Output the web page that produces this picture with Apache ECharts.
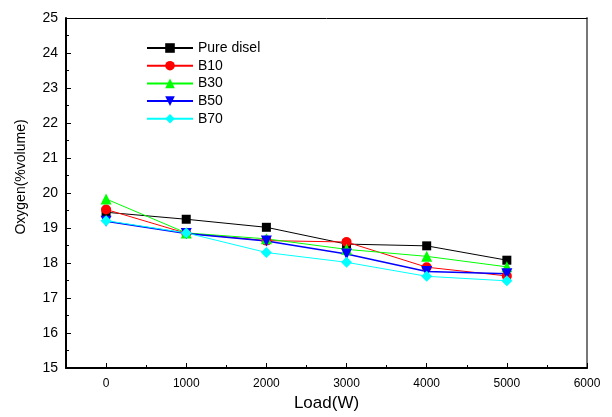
<!DOCTYPE html>
<html><head><meta charset="utf-8">
<script src="https://cdn.jsdelivr.net/npm/echarts@6/dist/echarts.min.js"></script>
<style>html,body{margin:0;padding:0;background:#fff}#c{width:612px;height:417px}</style>
</head><body><div id="c"></div>
<script>
const loads = [0, 1000, 2000, 3000, 4000, 5000];
const pureDisel = [19.45, 19.25, 19.02, 18.54, 18.49, 18.08];
const b10 = [19.53, 18.85, 18.64, 18.60, 17.88, 17.63];
const b30 = [19.83, 18.86, 18.69, 18.39, 18.19, 17.89];
const b50 = [19.19, 18.84, 18.63, 18.26, 17.76, 17.69];
const b70 = [19.21, 18.86, 18.30, 18.02, 17.62, 17.49];
const xMajorTicks = [0, 1000, 2000, 3000, 4000, 5000, 6000];
const xMinorTicks = [500, 1500, 2500, 3500, 4500, 5500];
const FONT = 'Liberation Sans';

const pair = arr => loads.map((x, i) => [x, arr[i]]);
function ser(name, data, color, symbol, size, lw, rot) {
  return {
    name, type: 'line', data: pair(data), symbol, symbolSize: size,
    symbolRotate: rot || 0,
    itemStyle: { color }, lineStyle: { color, width: lw },
    emphasis: { disabled: true }, animation: false, z: 5
  };
}
const chart = echarts.init(document.getElementById('c'), null, { renderer: 'canvas' });
chart.setOption({
  animation: false,
  textStyle: { fontFamily: FONT },
  grid: { left: 66, top: 18, right: 25, bottom: 47, containLabel: false },
  legend: {
    left: 141, top: 36, orient: 'vertical', itemWidth: 46, itemHeight: 12, itemGap: 3.7,
    textStyle: { fontFamily: FONT, fontSize: 14, color: '#000' },
    data: ['Pure disel', 'B10', 'B30', 'B50', 'B70']
  },
  graphic: [{
    type: 'text', x: 21, y: 177, rotation: Math.PI / 2,
    style: { text: 'Oxygen(%volume)', font: '14px "Liberation Sans"', fill: '#000',
             textAlign: 'center', textVerticalAlign: 'middle' }
  }],
  xAxis: [
    { type: 'value', position: 'bottom', min: -500, max: 6000,
      name: 'Load(W)', nameLocation: 'middle', nameGap: 27,
      nameTextStyle: { fontFamily: FONT, fontSize: 17, color: '#000' },
      axisLine: { onZero: false, lineStyle: { color: '#000', width: 2 } },
      axisTick: { show: true, inside: true, length: 5, customValues: xMajorTicks, lineStyle: { color: '#000' } },
      axisLabel: { customValues: xMajorTicks, formatter: v => String(v), fontFamily: FONT, fontSize: 12, color: '#000', margin: 10 },
      splitLine: { show: false } },
    { type: 'value', position: 'bottom', min: -500, max: 6000,
      axisLine: { show: false, onZero: false },
      axisTick: { show: true, inside: true, length: 3, customValues: xMinorTicks, lineStyle: { color: '#000' } },
      axisLabel: { show: false }, splitLine: { show: false } },
    { type: 'value', position: 'top', min: -500, max: 6000,
      axisLine: { show: true, onZero: false, lineStyle: { color: '#000', width: 1 } },
      axisTick: { show: false }, axisLabel: { show: false }, splitLine: { show: false } }
  ],
  yAxis: [
    { type: 'value', position: 'left', min: 15, max: 25, interval: 1,
      axisLine: { show: true, onZero: false, lineStyle: { color: '#000', width: 2 } },
      axisTick: { show: true, inside: true, length: 5, lineStyle: { color: '#000' } },
      minorTick: { show: true, splitNumber: 2, length: 3, lineStyle: { color: '#000' } },
      axisLabel: { fontFamily: FONT, fontSize: 14, color: '#000', margin: 8 },
      splitLine: { show: false } },
    { type: 'value', position: 'right', min: 15, max: 25, interval: 1,
      axisLine: { show: true, onZero: false, lineStyle: { color: '#777', width: 2 } },
      axisTick: { show: false }, axisLabel: { show: false }, splitLine: { show: false } }
  ],
  series: [
    ser('Pure disel', pureDisel, '#000000', 'rect', 9, 1),
    ser('B10', b10, '#ff0000', 'circle', 10, 1),
    ser('B30', b30, '#00ff00', 'triangle', 11, 1),
    ser('B50', b50, '#0000ff', 'triangle', 11, 1.5, 180),
    ser('B70', b70, '#00ffff', 'diamond', 11, 1)
  ]
});
</script></body></html>
